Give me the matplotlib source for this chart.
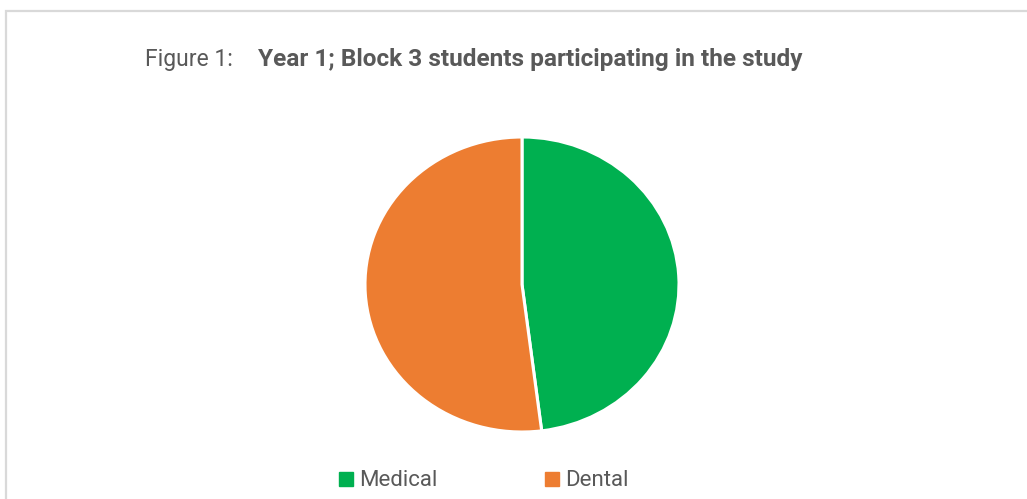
import matplotlib
matplotlib.use("Agg")
import matplotlib.pyplot as plt
from matplotlib.patches import Rectangle, Patch

categories = ["Medical", "Dental"]
values = [48, 52]
colors = ["#00B050", "#ED7D31"]
title_prefix = "Figure 1:"
title_main = "Year 1; Block 3 students participating in the study"

W, H = 1027, 499
fig = plt.figure(figsize=(W / 100, H / 100), dpi=100)
fig.patch.set_facecolor("white")

# chart frame (cut off at right and bottom)
fig.add_artist(Rectangle((5.5 / W, -0.1), 1.2, (H - 11.5) / H + 0.1,
                         transform=fig.transFigure, fill=False,
                         edgecolor="#D9D9D9", linewidth=1.6))

ax = fig.add_axes([365 / W, (H - 432) / H, 314 / W, 295 / H])
ax.pie(values, colors=colors, startangle=90, counterclock=False, radius=1,
       wedgeprops=dict(edgecolor="white", linewidth=2.2))
ax.set_aspect("auto")
ax.set_xlim(-1, 1)
ax.set_ylim(-1, 1)
ax.axis("off")

fam = ["Roboto", "DejaVu Sans"]
tcol = "#595959"
fig.text(145 / W, (H - 66) / H, title_prefix, fontsize=16.5, color=tcol,
         family=fam, fontweight="normal", va="baseline", ha="left")
fig.text(258 / W, (H - 66) / H, title_main, fontsize=17.6, color=tcol,
         family=fam, fontweight="bold", va="baseline", ha="left")

handles = [Patch(facecolor=c, edgecolor=c) for c in colors]
leg = fig.legend(handles, categories, loc="center", bbox_to_anchor=(484 / W, (H - 481) / H),
                 ncol=2, frameon=False, columnspacing=4.85,
                 handlelength=0.6, handleheight=0.6, handletextpad=0.3,
                 prop=dict(family=fam, size=16))
for t in leg.get_texts():
    t.set_color(tcol)

fig.savefig("out.png", dpi=100, facecolor="white")
